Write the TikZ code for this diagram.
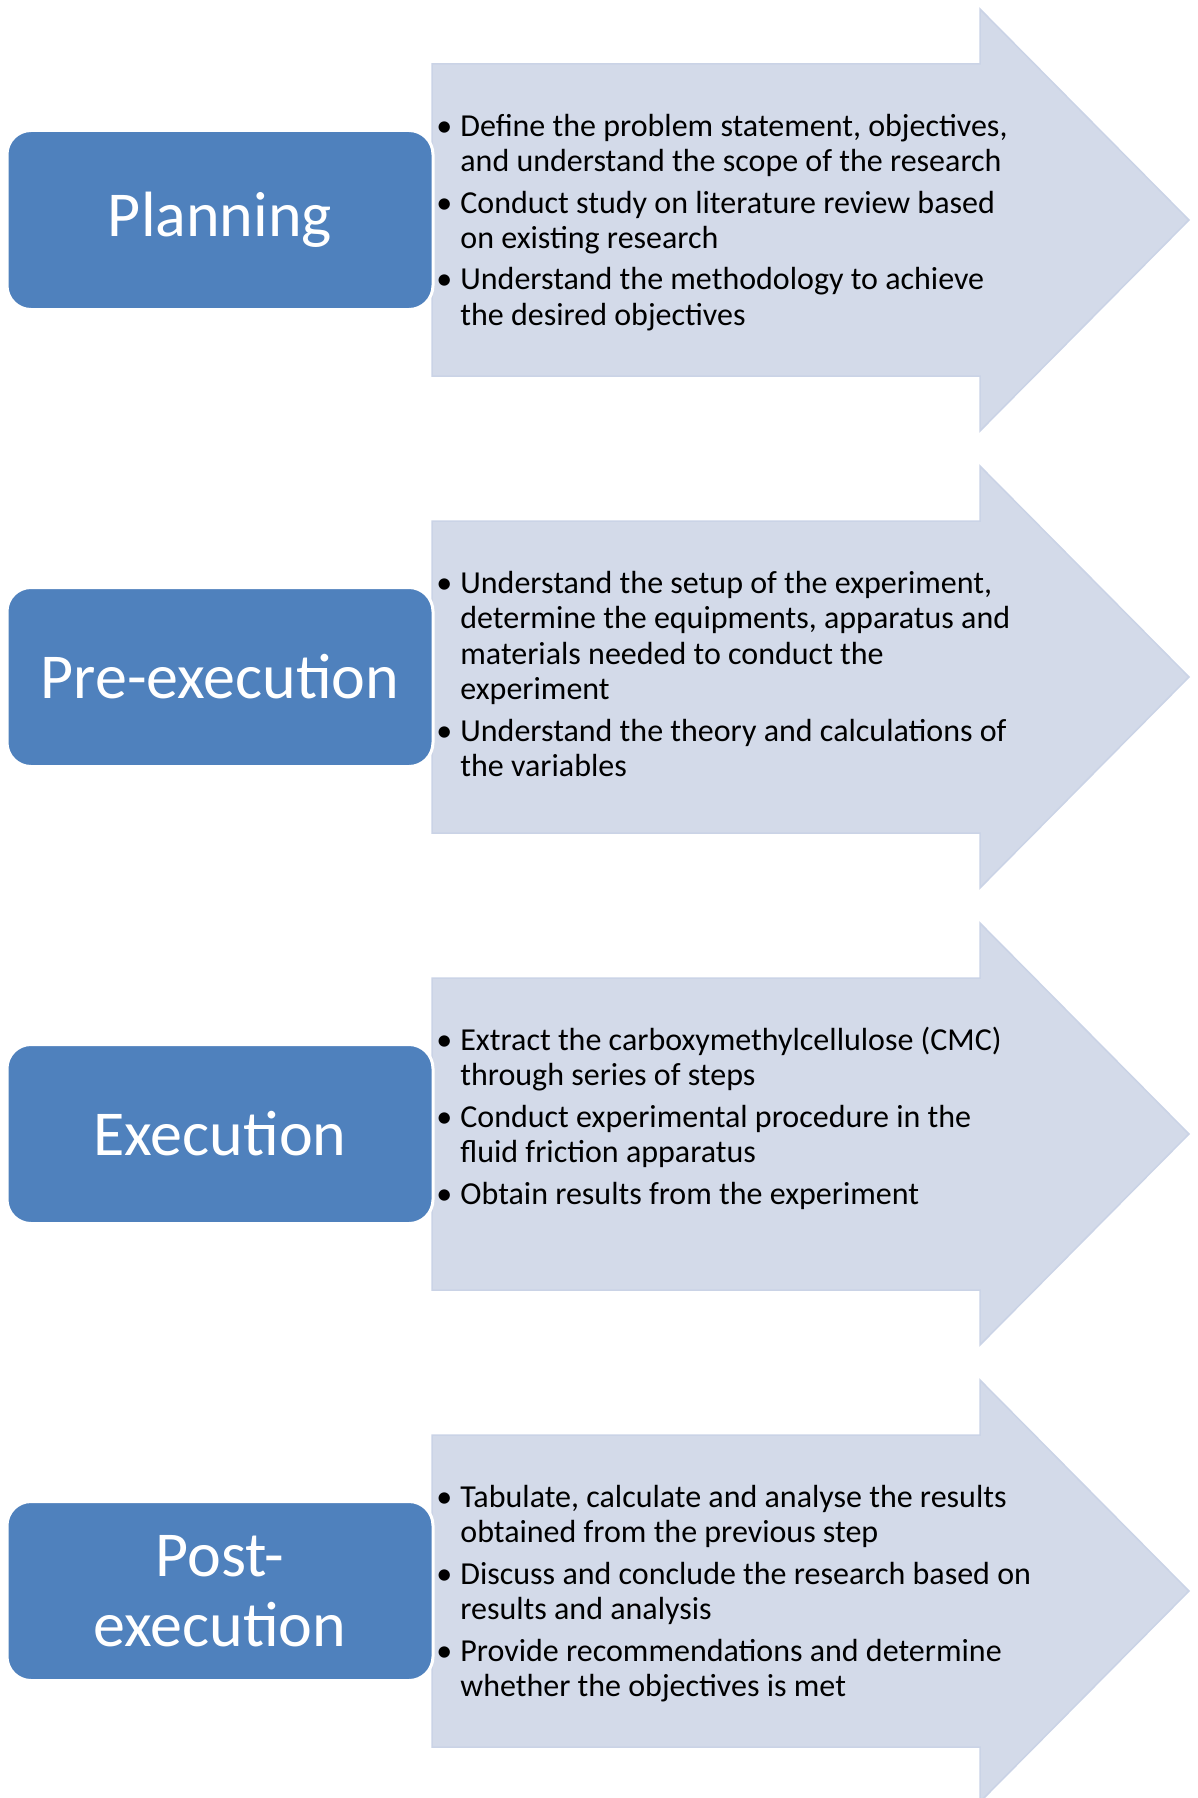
\documentclass[tikz,border=0pt]{standalone}
\usepackage{fontspec}
\setmainfont{Carlito}
\usepackage{tikz}
\usetikzlibrary{arrows,positioning}

\definecolor{boxblue}{HTML}{4F81BD}
\definecolor{arrowfill}{HTML}{D3DAE9}
\definecolor{arrowline}{HTML}{CAD3E6}

\begin{document}
\begin{tikzpicture}[x=0.5pt,y=-0.5pt,node distance=228.5pt,
    stagearrow/.style={fill=arrowfill,draw=arrowline,line width=0.75pt},
    stagebox/.style={rectangle,rounded corners=12pt,fill=boxblue,draw=white,line width=1.5pt,
      text=white,minimum width=213pt,minimum height=89.5pt,align=center,
      font=\fontsize{32}{35}\selectfont},
    stagetext/.style={anchor=base west,inner sep=0pt,font=\fontsize{16}{17.75}\selectfont}]
      \useasboundingbox (0,0) rectangle (1198,1798);
      % the four big arrows
      \fill[stagearrow] (432,64) -- (980,64) -- (980,9) -- (1189,220) -- (980,431) -- (980,376) -- (432,376) -- cycle;
      \fill[stagearrow,shift={(0,457)}] (432,64) -- (980,64) -- (980,9) -- (1189,220) -- (980,431) -- (980,376) -- (432,376) -- cycle;
      \fill[stagearrow,shift={(0,914)}] (432,64) -- (980,64) -- (980,9) -- (1189,220) -- (980,431) -- (980,376) -- (432,376) -- cycle;
      \fill[stagearrow,shift={(0,1371)}] (432,64) -- (980,64) -- (980,9) -- (1189,220) -- (980,431) -- (980,376) -- (432,376) -- cycle;
      % stage boxes
      \node[stagebox] (plan) at (220,220) {Planning};
      \node[stagebox] (preexec) [below of=plan] {Pre-execution};
      \node[stagebox] (exec) [below of=preexec] {Execution};
      \node[stagebox] (postexec) [below of=exec] {Post-\\execution};
      % bullet lists
      \node[stagetext] (plantext) at (436,136) {\begin{tabular}[t]{@{}p{12pt}@{}l@{}}
        \textbullet & Define the problem statement, objectives,\\
                    & and understand the scope of the research\\[3pt]
        \textbullet & Conduct study on literature review based\\
                    & on existing research\\[3pt]
        \textbullet & Understand the methodology to achieve\\
                    & the desired objectives
      \end{tabular}};
      \node[stagetext] (preexectext) at (436,593) {\begin{tabular}[t]{@{}p{12pt}@{}l@{}}
        \textbullet & Understand the setup of the experiment,\\
                    & determine the equipments, apparatus and\\
                    & materials needed to conduct the\\
                    & experiment\\[3pt]
        \textbullet & Understand the theory and calculations of\\
                    & the variables
      \end{tabular}};
      \node[stagetext] (exectext) at (436,1050) {\begin{tabular}[t]{@{}p{12pt}@{}l@{}}
        \textbullet & Extract the carboxymethylcellulose (CMC)\\
                    & through series of steps\\[3pt]
        \textbullet & Conduct experimental procedure in the\\
                    & fluid friction apparatus\\[3pt]
        \textbullet & Obtain results from the experiment
      \end{tabular}};
      \node[stagetext] (postexectext) at (436,1507) {\begin{tabular}[t]{@{}p{12pt}@{}l@{}}
        \textbullet & Tabulate, calculate and analyse the results\\
                    & obtained from the previous step\\[3pt]
        \textbullet & Discuss and conclude the research based on\\
                    & results and analysis\\[3pt]
        \textbullet & Provide recommendations and determine\\
                    & whether the objectives is met
      \end{tabular}};
    \end{tikzpicture}
\end{document}
